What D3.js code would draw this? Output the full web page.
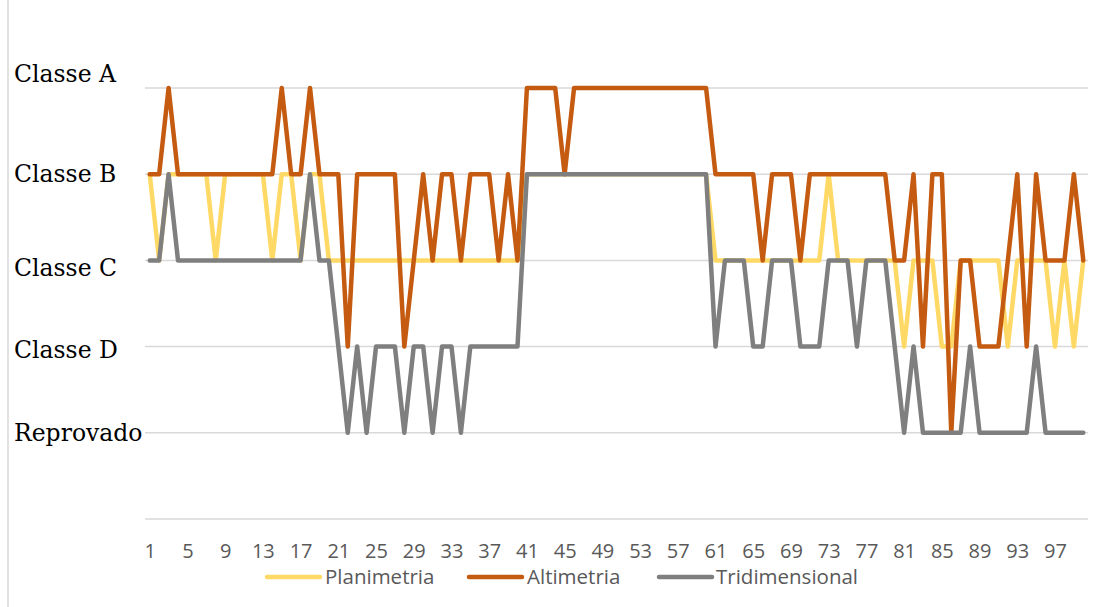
<!DOCTYPE html>
<html>
<head>
<meta charset="utf-8">
<script src="https://cdn.jsdelivr.net/npm/d3@7"></script>
<style>
  html, body { margin: 0; padding: 0; background: #fff; }
  svg { display: block; }
</style>
</head>
<body>
<svg id="chart" width="1105" height="607"></svg>
<script>
// Candidates 1..100
const candidates = d3.range(1, 101);

// Grade scale: 1 = Reprovado ... 5 = Classe A
const gradeLabels = ["Reprovado", "Classe D", "Classe C", "Classe B", "Classe A"];
const gradeValues = [1, 2, 3, 4, 5];

const xTickLabels = ["1","5","9","13","17","21","25","29","33","37","41","45","49",
                     "53","57","61","65","69","73","77","81","85","89","93","97"];

const seriesNames = ["Planimetria", "Altimetria", "Tridimensional"];

const planimetria = [
  4,3,4,4,4,4,4,3,4,4,
  4,4,4,3,4,4,3,4,4,3,
  3,3,3,3,3,3,3,3,3,3,
  3,3,3,3,3,3,3,3,3,3,
  4,4,4,4,4,4,4,4,4,4,
  4,4,4,4,4,4,4,4,4,4,
  3,3,3,3,3,3,3,3,3,3,
  3,3,4,3,3,3,3,3,3,3,
  2,3,3,3,2,2,3,3,3,3,
  3,2,3,3,3,3,2,3,2,3
];

const altimetria = [
  4,4,5,4,4,4,4,4,4,4,
  4,4,4,4,5,4,4,5,4,4,
  4,2,4,4,4,4,4,2,3,4,
  3,4,4,3,4,4,4,3,4,3,
  5,5,5,5,4,5,5,5,5,5,
  5,5,5,5,5,5,5,5,5,5,
  4,4,4,4,4,3,4,4,4,3,
  4,4,4,4,4,4,4,4,4,3,
  3,4,2,4,4,1,3,3,2,2,
  2,3,4,2,4,3,3,3,4,3
];

const tridimensional = [
  3,3,4,3,3,3,3,3,3,3,
  3,3,3,3,3,3,3,4,3,3,
  2,1,2,1,2,2,2,1,2,2,
  1,2,2,1,2,2,2,2,2,2,
  4,4,4,4,4,4,4,4,4,4,
  4,4,4,4,4,4,4,4,4,4,
  2,3,3,3,2,2,3,3,3,2,
  2,2,3,3,3,2,3,3,3,2,
  1,2,1,1,1,1,1,2,1,1,
  1,1,1,1,2,1,1,1,1,1
];

const seriesColors = ["#FFD966", "#C55A11", "#7F7F7F"];

// ---- layout ----
const svg = d3.select("#chart");
svg.append("rect").attr("width", 1105).attr("height", 607).attr("fill", "#fff");

// chart frame edge on the left
svg.append("line")
  .attr("x1", 8).attr("x2", 8).attr("y1", 0).attr("y2", 607)
  .attr("stroke", "#d9d9d9").attr("stroke-width", 1.5);

const plot = { left: 145, right: 1088, top: 88, bottom: 519 };

const x = d3.scalePoint()
  .domain(candidates)
  .range([plot.left, plot.right])
  .padding(0.5);

const y = d3.scaleLinear()
  .domain([0, 5])
  .range([plot.bottom, plot.top]);

// horizontal gridlines
svg.append("g")
  .selectAll("line")
  .data(d3.range(0, 6))
  .join("line")
  .attr("x1", plot.left).attr("x2", plot.right)
  .attr("y1", d => y(d)).attr("y2", d => y(d))
  .attr("stroke", "#d9d9d9").attr("stroke-width", 1.5);

// grade labels on the left
const labelNudge = { 1: 8, 2: 11, 3: 16, 4: 8, 5: -6 };
svg.append("g")
  .selectAll("text")
  .data(gradeValues)
  .join("text")
  .attr("x", 14)
  .attr("y", d => y(d) + labelNudge[d])
  .attr("font-family", "'DejaVu Serif', serif")
  .attr("font-size", 23.5)
  .attr("fill", "#000")
  .text((d, i) => gradeLabels[i]);

// category axis labels
const xAxis = d3.axisBottom(x)
  .tickValues(xTickLabels.map(Number))
  .tickSize(0)
  .tickPadding(0);

const gx = svg.append("g")
  .attr("transform", `translate(0, ${plot.bottom})`)
  .call(xAxis);
gx.select(".domain").remove();
gx.selectAll("text")
  .attr("y", 39)
  .attr("dy", 0)
  .attr("font-family", "'Open Sans', sans-serif")
  .attr("font-size", 20)
  .attr("fill", "#595959");

// series lines
const seriesData = [planimetria, altimetria, tridimensional];
const line = d3.line()
  .x((d, i) => x(candidates[i]))
  .y(d => y(d));

svg.append("g")
  .selectAll("path")
  .data(seriesData)
  .join("path")
  .attr("d", line)
  .attr("fill", "none")
  .attr("stroke", (d, i) => seriesColors[i])
  .attr("stroke-width", 4.5)
  .attr("stroke-linejoin", "round")
  .attr("stroke-linecap", "round");

// legend
const legendItems = [
  { x: 267, tx: 325 },
  { x: 469, tx: 527 },
  { x: 659, tx: 716 }
];
const legend = svg.append("g");
legendItems.forEach((it, i) => {
  legend.append("line")
    .attr("x1", it.x).attr("x2", it.x + 53)
    .attr("y1", 577).attr("y2", 577)
    .attr("stroke", seriesColors[i])
    .attr("stroke-width", 4.5)
    .attr("stroke-linecap", "round");
  legend.append("text")
    .attr("x", it.tx)
    .attr("y", 584)
    .attr("font-family", "'Open Sans', sans-serif")
    .attr("font-size", 20.5)
    .attr("fill", "#595959")
    .text(seriesNames[i]);
});
</script>
</body>
</html>
